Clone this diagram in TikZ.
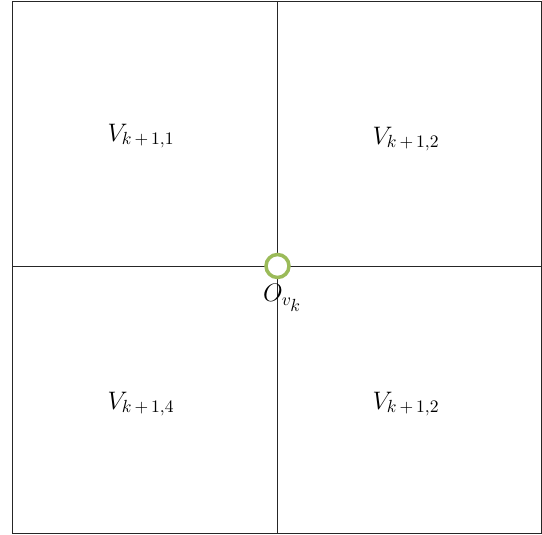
\documentclass[tikz,border=0pt]{standalone}
\usepackage{amsmath,amssymb}
\usepackage{xcolor}
\usetikzlibrary{positioning}
\definecolor{ringgreen}{RGB}{155,187,89}

\begin{document}
\begin{tikzpicture}[
  x=0.02cm, y=-0.02cm,
  edge/.style={draw=black!85, line width=0.45pt},
  cell/.style={font=\fontsize{14}{16}\selectfont, inner sep=1pt},
  ring/.style={circle, draw=ringgreen, line width=2pt, minimum size=0.46cm, inner sep=0pt, fill=white}
]
\useasboundingbox (0,0) rectangle (542,535);

% outer square and the two dividing lines
\coordinate (nw) at (12.5,1.5);
\coordinate (se) at (541,533);
\coordinate (top) at (277,1.5);
\coordinate (bot) at (277,533);
\coordinate (lft) at (12.5,266);
\coordinate (rgt) at (541,266);
\draw[edge] (nw) rectangle (se);
\draw[edge] (top) -- (bot);
\draw[edge] (lft) -- (rgt);

% centre point
\node[ring] (centre) at (277.5,266) {};
\node[cell, below=0.06cm of centre, xshift=0.1cm] (olabel) {$O_{v_{\scriptstyle k}}$};

% quadrant labels
\node[cell] (q1) at (141,136) {$V_{k\,+\,1,1}$};
\node[cell] (q2) at (406,139) {$V_{k\,+\,1,2}$};
\node[cell] (q4) at (141,404) {$V_{k\,+\,1,4}$};
\node[cell] (q3) at (406,404) {$V_{k\,+\,1,2}$};

\end{tikzpicture}
\end{document}
